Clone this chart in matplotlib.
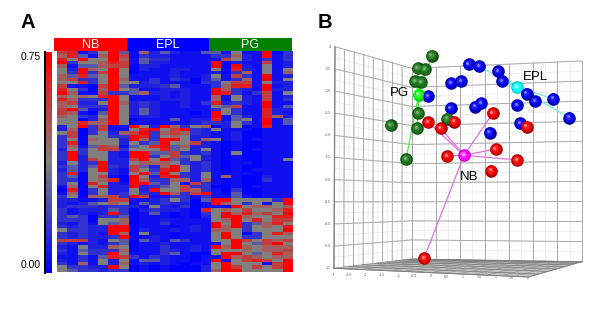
import numpy as np
import matplotlib
matplotlib.use('Agg')
import matplotlib.pyplot as plt
from matplotlib.colors import LinearSegmentedColormap
from matplotlib.transforms import ScaledTranslation

plt.rcParams['font.family'] = ['Liberation Sans', 'DejaVu Sans']

W, H = 616, 328

# heatmap levels, 0 = 0.00 (blue) and 9 = 0.75 (red); one string per column, top to bottom
top_block = [
    "7689655665789686677655", "8853123475156567596555", "1495499838131632341308",
    "3155463433000532310226", "5656657555767835324566", "9998799999993999999999",
    "4767755565453556555555", "1011000115244112222100", "6344221112216113344211",
    "2232211133212112222211", "4232111111322221111111", "2111122231421121111141",
    "1111121121122222211111", "1111111100111111110122", "4111111223111113111123",
    "4319952543399668539983", "1370010115668112455112", "5652983737833553733445",
    "1221226367821222111253", "1111111111113111111111", "9937555995997779988899",
    "0111111112121111122611", "3332256252225231421244",
]
mid_block = [
    "2253333233323233331013", "5677586599954484356865", "9000001332222200000000",
    "3335654555734555585336", "7755557755599957658556", "1123556722223221822227",
    "1163221311222110012233", "9579954599757759999559", "5898635599964595692237",
    "2933348543562342343921", "9565999845966898334591", "6776954477459959655563",
    "3965556534335533617733", "5332272225522222273671", "6222622532233355633393",
    "0511511111111111110111", "2111100000000006000001", "5122211151111111111344",
    "0100000000010010000001", "1000100100000100001000", "8111111111111112311111",
    "1111111111111111111111", "1111111111511111111111",
]
bottom_block = [
    "2223333235337323212355", "2131143123227211111134", "1232233333337154533633",
    "1432100122222223311123", "2522235522121123345522", "7634935499935363982293",
    "7533346699694456575653", "1120000000000000131100", "1412111112514111114211",
    "2253411111122111134100", "3322112311111233322211", "5212001102004112411100",
    "3231111111113111111000", "0000001122111122000100", "4118321111111111011122",
    "9915555996555195519556", "9606996566995565991999", "5595699995559995965579",
    "5357865333037566577555", "5565658455335455468575", "5165755665557766557055",
    "3556587855856966865775", "9968987589657567669999",
]

group_names = ['NB', 'EPL', 'PG']
group_colors = ['#ff0000', '#0000ff', '#008000']
group_ends = [54, 127, 209, 292]
cbar_labels = ['0.75', '0.00']

# y axis and x axis labels of the 3D plot
wall_ticks = ['4', '2.5', '1.0', '-0.5', '-2.0', '-3.5', '-5.0', '-6.5', '-8.0', '-9.5', '-11']
floor_ticks = ['-3', '-2.5', '-2', '-1.5', '-1', '-0.5', '0', '0.5', '1', '1.5', '2', '2.5', '3']

# sphere positions, in pixels
pg_x = [431.7, 417.7, 425, 415, 421, 418, 447.3, 417, 390.7, 406]
pg_y = [55.7, 68.3, 69.3, 81.3, 82.3, 113.3, 118.7, 128, 125.3, 159.3]
epl_x = [468.7, 479.3, 498.3, 502.3, 451.3, 461, 428.3, 526.7, 553.3, 535.3, 517, 569.3,
         450.7, 481.3, 475, 520.3, 489.7]
epl_y = [64, 66.3, 71, 81.3, 83.3, 81.3, 96.3, 93.7, 98.7, 101, 105, 117.7,
         108.3, 103.3, 106.7, 123.3, 132.7]
nb_x = [492.7, 428.3, 454.3, 440.7, 526.7, 495.7, 447.3, 517.3, 491, 424]
nb_y = [113.3, 122.3, 121.7, 128.3, 126.7, 149, 156, 160, 170.7, 258.3]
pg_center = (418.7, 94.7)
epl_center = (517.3, 87.3)
nb_center = (464, 155.3)

# which spheres are tied to their group centre
pg_links = [0, 1, 2, 3, 4, 5, 7, 9]
epl_links = [1, 2, 3, 7, 8, 9, 11]
nb_links = [0, 1, 3, 5, 6, 7, 9]

fig = plt.figure(figsize=(W / 100, H / 100), dpi=100)
cmap_bar = LinearSegmentedColormap.from_list('bgr', ['#0000ff', '#808080', '#ff0000'])
# low levels stay close to blue in the heatmap
cmap_heat = LinearSegmentedColormap.from_list('heat', [(0, '#0000ff'), (0.33, '#3030d0'),
                                                       (0.55, '#808080'), (1, '#ff0000')])


def px_axes(x0, y0, x1, y1):
    return fig.add_axes([x0 / W, 1 - y1 / H, (x1 - x0) / W, (y1 - y0) / H])


# Panel A heatmap
cols = [list(map(int, t + m + b)) for t, m, b in zip(top_block, mid_block, bottom_block)]
matrix = np.array(cols).T
ax_h = px_axes(56.5, 51, 292.5, 272)
ax_h.imshow(matrix, cmap=cmap_heat, vmin=0, vmax=9, aspect='auto', interpolation='nearest')
ax_h.axis('off')

# Colour bar
ax_c = px_axes(45, 51.5, 52, 273)
ax_c.imshow(np.linspace(1, 0, 128)[:, None], cmap=cmap_bar, aspect='auto')
ax_c.axis('off')

# Everything else is placed on a full figure pixel axes
ax = fig.add_axes([0, 0, 1, 1], zorder=-1)
ax.set_xlim(0, W)
ax.set_ylim(H, 0)
ax.axis('off')
ax_top = fig.add_axes([0, 0, 1, 1], zorder=5)
ax_top.set_xlim(0, W)
ax_top.set_ylim(H, 0)
ax_top.axis('off')
ax_top.patch.set_alpha(0)

ax_top.plot([44.5, 44.5], [51.5, 273], color='black', lw=1.4)
ax_top.text(28, 22, 'A', fontsize=14.5, fontweight='bold', va='center', ha='center')
ax_top.text(325, 22, 'B', fontsize=14.5, fontweight='bold', va='center', ha='center')
ax_top.text(41, 57.5, cbar_labels[0], fontsize=7.5, va='center', ha='right')
ax_top.text(41, 264.5, cbar_labels[1], fontsize=7.5, va='center', ha='right')

# Group header bar
for i, name in enumerate(group_names):
    ax_top.fill_between([group_ends[i], group_ends[i + 1]], 38, 50.5, color=group_colors[i], lw=0)
    ax_top.text((group_ends[i] + group_ends[i + 1]) / 2, 44.5, name, color='white', fontsize=9,
                va='center', ha='center')


def wall(a, b, c, d, nu, nv):
    # a b top edge, d c bottom edge; nu vertical and nv horizontal divisions
    a, b, c, d = map(np.array, (a, b, c, d))
    for level, n, col, lw in [(0, nu * 2, '#e8e8e8', 0.5), (1, nu, '#aaaaaa', 0.7)]:
        for t in np.linspace(0, 1, n + 1):
            p, q = a + (b - a) * t, d + (c - d) * t
            ax.plot([p[0], q[0]], [p[1], q[1]], color=col, lw=lw, zorder=1 + level)
    for level, n, col, lw in [(0, nv * 2, '#e8e8e8', 0.5), (1, nv, '#aaaaaa', 0.7)]:
        for t in np.linspace(0, 1, n + 1):
            p, q = a + (d - a) * t, b + (c - b) * t
            ax.plot([p[0], q[0]], [p[1], q[1]], color=col, lw=lw, zorder=1 + level)


# 3D box: left wall, back wall, floor
left_top, back_top, right_top = (335, 46.7), (411.7, 68.3), (581.7, 61)
left_bot, back_bot, right_bot, front = (334, 268.3), (411.7, 259), (581.7, 261.7), (528.3, 277)
wall(left_top, back_top, back_bot, left_bot, 8, 10)
wall(back_top, right_top, right_bot, back_bot, 7, 10)
ax.fill([left_bot[0], back_bot[0], right_bot[0], front[0]],
        [left_bot[1], back_bot[1], right_bot[1], front[1]], color='#c4c4c4', lw=0, zorder=3)
a, b, c, d = map(np.array, (back_bot, right_bot, front, left_bot))
for t in np.linspace(0, 1, 15):
    p, q = a + (b - a) * t, d + (c - d) * t
    ax.plot([p[0], q[0]], [p[1], q[1]], color='#8c8c8c', lw=0.4, zorder=4)
for t in np.linspace(0, 1, 9) ** 1.6:
    p, q = a + (d - a) * t, b + (c - b) * t
    ax.plot([p[0], q[0]], [p[1], q[1]], color='#707070', lw=0.5, zorder=4)
ax.plot([left_bot[0], front[0], right_bot[0]], [left_bot[1], front[1], right_bot[1]],
        color='#808080', lw=0.7, zorder=5)
ax.plot([left_top[0], left_bot[0]], [left_top[1], left_bot[1]], color='#808080', lw=0.9, zorder=5)

# Tick labels
for lab, y in zip(wall_ticks, np.linspace(left_top[1], left_bot[1], len(wall_ticks))):
    ax.text(331, y, lab, fontsize=2.6, color='#555555', ha='right', va='center')
for lab, t in zip(floor_ticks, np.linspace(0, 1, len(floor_ticks))):
    ax.text(333 + (528 - 333) * t, 274.5 + 3.5 * t, lab, fontsize=2.6, color='#555555',
            ha='center', va='center')

# Lines from each group centre
for xs, ys, links, center, col in [(pg_x, pg_y, pg_links, pg_center, '#55e055'),
                                   (epl_x, epl_y, epl_links, epl_center, '#70e8e8'),
                                   (nb_x, nb_y, nb_links, nb_center, '#e070e0')]:
    for i in links:
        ax_top.plot([center[0], xs[i]], [center[1], ys[i]], color=col, lw=0.9, zorder=2)


def spheres(xs, ys, shades, size=82):
    # dark rim, body and highlight, shifted a little to the upper left
    for k, (col, scale, dx) in enumerate(zip(shades, (1.0, 0.7, 0.25, 0.05), (0, -0.4, -1.1, -1.4))):
        shift = ScaledTranslation(dx / 100, -dx / 100, fig.dpi_scale_trans)
        ax_top.scatter(xs, ys, s=size * scale, color=col, lw=0, zorder=3 + k * 0.1,
                       transform=ax_top.transData + shift)


spheres(pg_x, pg_y, ['#0c4a0c', '#1c701c', '#3c8c3c', '#80b080'])
spheres(epl_x, epl_y, ['#00009a', '#0000e0', '#2020ff', '#8080ff'])
spheres(nb_x, nb_y, ['#a00000', '#e80000', '#ff2020', '#ff9090'])
spheres([pg_center[0]], [pg_center[1]], ['#00d000', '#00ff00', '#40ff40', '#b0ffb0'])
spheres([epl_center[0]], [epl_center[1]], ['#00c0c0', '#00ffff', '#40ffff', '#c0ffff'])
spheres([nb_center[0]], [nb_center[1]], ['#c000c0', '#ff00ff', '#ff40ff', '#ffb0ff'])

ax_top.text(535, 76.5, 'EPL', fontsize=9.5, ha='center', va='center', zorder=6)
ax_top.text(399.5, 93.5, 'PG', fontsize=9.5, ha='center', va='center', zorder=6)
ax_top.text(469, 176.5, 'NB', fontsize=9.5, ha='center', va='center', zorder=6)

fig.savefig('out.png', dpi=100)
